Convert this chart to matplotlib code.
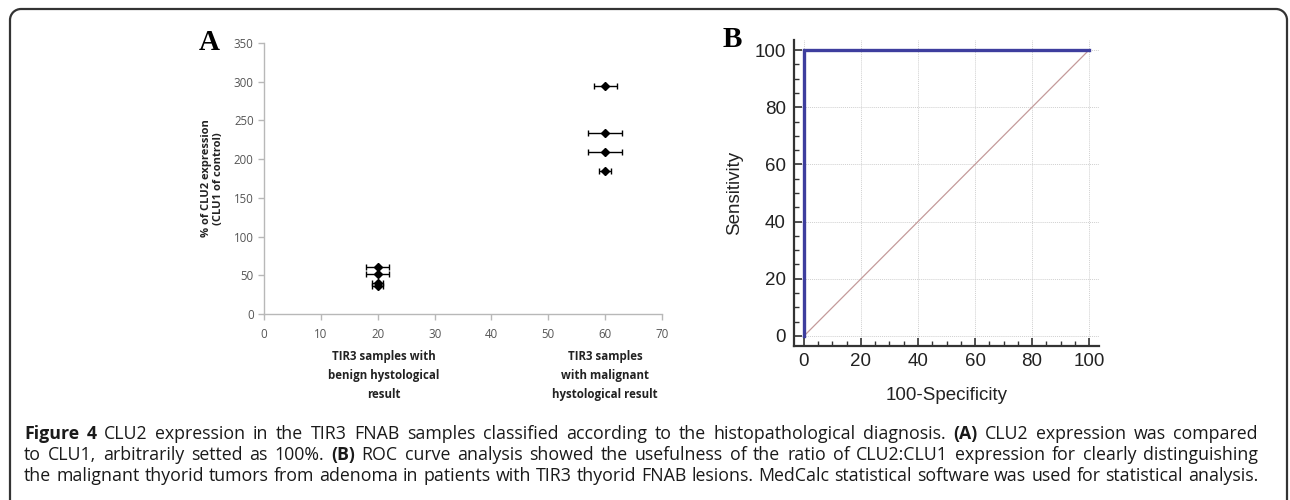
import matplotlib
matplotlib.use("Agg")
import matplotlib.pyplot as plt
from matplotlib.patches import Arc
from matplotlib.ticker import MultipleLocator
import matplotlib.transforms as mtrans

# ---------------- data ----------------
benign_x = [20, 20, 20, 20]
benign_y = [61, 52, 40, 36]
benign_err = [2, 2, 1, 1]
malig_x = [60, 60, 60, 60]
malig_y = [294, 234, 209, 185]
malig_err = [2, 3, 3, 1]
a_xticks = [0, 10, 20, 30, 40, 50, 60, 70]
a_yticks = [0, 50, 100, 150, 200, 250, 300, 350]
group_labels = ["TIR3 samples with\nbenign hystological\nresult",
                "TIR3 samples\nwith malignant\nhystological result"]
group_label_x = [21, 60]

roc_x = [0, 0, 100]
roc_y = [0, 100, 100]
diag_x = [0, 100]
diag_y = [0, 100]
b_ticks = [0, 20, 40, 60, 80, 100]

caption_lines = [
    [("Figure 4", True), (" CLU2 expression in the TIR3 FNAB samples classified according to the histopathological diagnosis. ", False),
     ("(A)", True), (" CLU2 expression was compared", False)],
    [("to CLU1, arbitrarily setted as 100%. ", False), ("(B)", True),
     (" ROC curve analysis showed the usefulness of the ratio of CLU2:CLU1 expression for clearly distinguishing", False)],
    [("the malignant thyorid tumors from adenoma in patients with TIR3 thyorid FNAB lesions. MedCalc statistical software was used for statistical analysis.", False)],
]

W, H = 1290, 500
fig = plt.figure(figsize=(W / 100, H / 100), dpi=100)
fig.patch.set_facecolor("white")
cap_font = "Open Sans"

# ---------------- border (pixel overlay) ----------------
ov = fig.add_axes([0, 0, 1, 1], zorder=-5)
ov.set_xlim(0, W)
ov.set_ylim(H, 0)
ov.axis("off")
r = 11
bl, br, bt = 10, 1287, 9
bc = "#333333"
ov.plot([bl, bl], [bt + r, H + 5], color=bc, lw=1.6, solid_capstyle="butt")
ov.plot([br, br], [bt + r, H + 5], color=bc, lw=1.6, solid_capstyle="butt")
ov.plot([bl + r, br - r], [bt, bt], color=bc, lw=1.6, solid_capstyle="butt")
ov.add_patch(Arc((bl + r, bt + r), 2 * r, 2 * r, theta1=180, theta2=270, color=bc, lw=1.6))
ov.add_patch(Arc((br - r, bt + r), 2 * r, 2 * r, theta1=270, theta2=360, color=bc, lw=1.6))

# ---------------- Panel A ----------------
axA = fig.add_axes([264 / W, 1 - 314 / H, (662 - 264) / W, (314 - 43) / H])
gray = "#b8b8b8"
for s in ["top", "right"]:
    axA.spines[s].set_visible(False)
for s in ["left", "bottom"]:
    axA.spines[s].set_color(gray)
    axA.spines[s].set_linewidth(1.0)
axA.set_xlim(0, 70)
axA.set_ylim(0, 350)
axA.set_xticks(a_xticks)
axA.set_yticks(a_yticks)
axA.tick_params(colors=gray, labelcolor="#555555", labelsize=8.3, length=4, width=1.0)
axA.tick_params(axis="x", pad=6)
for lab in axA.get_xticklabels() + axA.get_yticklabels():
    lab.set_family("Open Sans")
axA.errorbar(benign_x, benign_y, xerr=benign_err, fmt="D", color="black", ms=4.2,
             elinewidth=1.0, capsize=2.5, capthick=1.0, ecolor="black")
axA.errorbar(malig_x, malig_y, xerr=malig_err, fmt="D", color="black", ms=4.2,
             elinewidth=1.0, capsize=2.5, capthick=1.0, ecolor="black")
axA.set_ylabel("% of CLU2 expression\n(CLU1 of control)", family="Open Sans", fontweight="bold",
               fontsize=8.0, color="#222222", labelpad=7, linespacing=1.15)
trA = mtrans.blended_transform_factory(axA.transData, fig.transFigure)
for gx, gl in zip(group_label_x, group_labels):
    fig.text(gx, 1 - 350 / H, gl, transform=trA, family="Open Sans", fontweight="bold", fontsize=8.3,
             color="#222222", ha="center", va="top", linespacing=1.6)
fig.text(209 / W, 1 - 50 / H, "A", family="Liberation Serif", fontweight="bold", fontsize=21,
         ha="center", va="baseline")

# ---------------- Panel B ----------------
axB = fig.add_axes([794 / W, 1 - 346 / H, (1099 - 794) / W, (346 - 40) / H])
for s in ["top", "right"]:
    axB.spines[s].set_visible(False)
for s in ["left", "bottom"]:
    axB.spines[s].set_color("#333333")
    axB.spines[s].set_linewidth(1.6)
axB.set_xlim(-3.5, 103.5)
axB.set_ylim(-3.5, 103.5)
axB.set_xticks(b_ticks)
axB.set_yticks(b_ticks)
axB.xaxis.set_minor_locator(MultipleLocator(5))
axB.yaxis.set_minor_locator(MultipleLocator(5))
axB.tick_params(which="major", direction="in", length=6, width=1.2, color="#333333",
                labelsize=13.5, labelcolor="#222222")
axB.tick_params(which="minor", direction="in", length=3.5, width=1.0, color="#333333")
axB.tick_params(axis="y", pad=6)
axB.tick_params(axis="x", pad=5)
for lab in axB.get_xticklabels() + axB.get_yticklabels():
    lab.set_family("Liberation Sans")
axB.grid(True, which="major", color="#d0d0d0", linestyle=(0, (1, 1)), linewidth=0.7)
axB.set_axisbelow(True)
axB.plot(diag_x, diag_y, color="#c49a9a", lw=0.9, clip_on=False)
axB.plot(roc_x, roc_y, color="#3e3e9e", lw=2.4, clip_on=False, solid_joinstyle="miter")
axB.set_ylabel("Sensitivity", family="Liberation Sans", fontsize=13.5, color="#222222", labelpad=8)
axB.set_xlabel("100-Specificity", family="Liberation Sans", fontsize=13.5, color="#222222", labelpad=12)
fig.text(732 / W, 1 - 47 / H, "B", family="Liberation Serif", fontweight="bold", fontsize=21,
         ha="center", va="baseline")

# ---------------- Caption (justified) ----------------
fig.canvas.draw()
renderer = fig.canvas.get_renderer()
cap_left, cap_right = 24, 1258
baselines = [439, 460, 481]
base_size = 10.5

def words_of(segs):
    out = []
    for txt, bold in segs:
        for p in txt.split(" "):
            if p:
                out.append((p, bold))
    return out

def measure(txt, bold, size):
    t = fig.text(0, 0, txt, family=cap_font, fontweight="bold" if bold else "normal", fontsize=size)
    w = t.get_window_extent(renderer).width
    t.remove()
    return w

space_w = measure("a a", False, base_size) - measure("aa", False, base_size)
natural = []
for segs in caption_lines:
    ws = words_of(segs)
    natural.append(sum(measure(w, b, base_size) for w, b in ws) + space_w * (len(ws) - 1))
cap_size = base_size * (cap_right - cap_left) / max(natural)

for segs, yb in zip(caption_lines, baselines):
    ws = words_of(segs)
    widths = [measure(w, b, cap_size) for w, b in ws]
    gap = (cap_right - cap_left - sum(widths)) / (len(ws) - 1)
    x = cap_left
    for (w, b), wd in zip(ws, widths):
        fig.text(x / W, 1 - yb / H, w, family=cap_font, fontweight="bold" if b else "normal",
                 fontsize=cap_size, color="#1a1a1a", va="baseline", ha="left")
        x += wd + gap

fig.savefig("out.png", dpi=100, facecolor="white")
